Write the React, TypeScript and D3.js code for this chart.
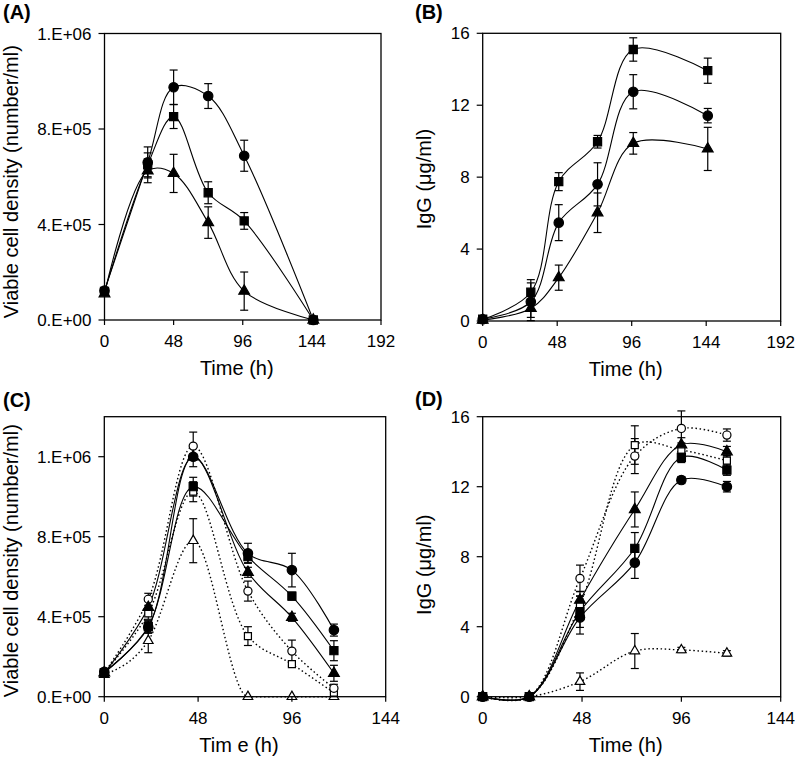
import React from "react";
import * as d3 from "d3";

// ---------- DATA ----------
// Panel A: viable cell density
const timeA = [0, 30, 48, 72, 97, 145];
const aCircle = [1.23e5, 6.6e5, 9.75e5, 9.38e5, 6.88e5, 0];
const aCircleErr = [0, 0.65e5, 0.72e5, 0.52e5, 0.65e5, 0];
const aSquare = [1.2e5, 6.5e5, 8.52e5, 5.33e5, 4.15e5, 0];
const aSquareErr = [0, 0.5e5, 0.5e5, 0.46e5, 0.35e5, 0];
const aTriangle = [1.1e5, 6.25e5, 6.14e5, 4.08e5, 1.21e5, 0];
const aTriangleErr = [0, 0.5e5, 0.8e5, 0.66e5, 0.8e5, 0];

// Panel B: IgG
const timeB = [0, 31, 49, 74, 97, 145];
const bSquare = [0.1, 1.6, 7.75, 9.97, 15.1, 13.92];
const bSquareErr = [0, 0.7, 0.5, 0.35, 0.65, 0.7];
const bCircle = [0.1, 1.07, 5.47, 7.6, 12.75, 11.42];
const bCircleErr = [0, 1.05, 1.0, 1.2, 0.95, 0.4];
const bTriangle = [0.05, 0.7, 2.41, 6.02, 9.88, 9.57];
const bTriangleErr = [0, 0.5, 0.7, 1.1, 0.6, 1.2];

// Panel C: viable cell density
const timeC = [0, 22.5, 45.5, 73.5, 96, 117.5];
const cCircleF = [1.25e5, 3.47e5, 1.2e6, 7.17e5, 6.33e5, 3.33e5];
const cCircleFErr = [0, 0.3e5, 0.05e5, 0.5e5, 0.84e5, 0.3e5];
const cSquareF = [1.2e5, 3.5e5, 1.05e6, 7.0e5, 5.03e5, 2.3e5];
const cSquareFErr = [0, 0.3e5, 0.47e5, 0.3e5, 0.2e5, 0.5e5];
const cTriF = [1.2e5, 4.47e5, 1.2e6, 6.22e5, 3.97e5, 1.17e5];
const cTriFErr = [0, 0.3e5, 0.5e5, 0.25e5, 0.2e5, 0.4e5];
const cCircleO = [1.2e5, 4.87e5, 1.253e6, 5.28e5, 2.28e5, 0.42e5];
const cCircleOErr = [0, 0.3e5, 0.7e5, 0.5e5, 0.55e5, 0.2e5];
const cSquareO = [1.2e5, 4.17e5, 1.025e6, 3.03e5, 1.63e5, 0.2e5];
const cSquareOErr = [0, 0.3e5, 0.5e5, 0.47e5, 0.1e5, 0];
const cTriO = [1.1e5, 2.8e5, 7.8e5, 0, 0, 0];
const cTriOErr = [0, 0.6e5, 1.1e5, 0, 0, 0];

// Panel D: IgG
const timeD = [0, 22.5, 47, 73.5, 96, 118];
const dCircleF = [0, 0, 4.53, 7.66, 12.38, 12.0];
const dCircleFErr = [0, 0, 0.95, 0.9, 0.2, 0.3];
const dSquareF = [0, 0, 4.86, 8.48, 13.68, 12.95];
const dSquareFErr = [0, 0, 0.9, 0.9, 0.3, 0.3];
const dTriF = [0, 0, 5.52, 10.7, 14.4, 14.0];
const dTriFErr = [0, 0, 0.5, 1.0, 0.4, 0.3];
const dCircleO = [0, 0, 6.76, 13.75, 15.33, 14.95];
const dCircleOErr = [0, 0, 0.76, 1.0, 1.0, 0.35];
const dSquareO = [0, 0, 5.24, 14.38, 14.1, 13.49];
const dSquareOErr = [0, 0, 0.5, 1.1, 0.4, 0.3];
const dTriO = [0, 0, 0.86, 2.61, 2.67, 2.48];
const dTriOErr = [0, 0, 0.5, 1.0, 0.15, 0.15];

// Axis ticks
const xTicksAB = [0, 48, 96, 144, 192];
const xTicksCD = [0, 48, 96, 144];
const yTicksCell = [0, 4e5, 8e5, 1.2e6];
const yTickLabelsCell = ["0.E+00", "4.E+05", "8.E+05", "1.E+06"];
const yTicksIgG = [0, 4, 8, 12, 16];
const yTickLabelsIgG = ["0", "4", "8", "12", "16"];

// ---------- RENDERING ----------
type Shape = "circle" | "square" | "triangle";
type Series = {
  t: number[]; v: number[]; e: number[];
  shape: Shape; filled: boolean; dotted: boolean; monotone?: boolean;
};

const FONT = "'Liberation Sans', Arial, sans-serif";

function symbolPath(shape: Shape, filled: boolean) {
  const type = shape === "circle" ? d3.symbolCircle : shape === "square" ? d3.symbolSquare : d3.symbolTriangle;
  const size = shape === "circle" ? (filled ? 70 : 52) : shape === "square" ? (filled ? 66 : 49) : (filled ? 50 : 40);
  return d3.symbol().type(type).size(size)() as string;
}

type PanelProps = {
  left: number; top: number; width: number; height: number;
  xDomain: [number, number]; xTicks: number[];
  yDomain: [number, number]; yTicks: number[]; yTickLabels: string[];
  series: Series[];
  label: string; labelX: number; labelY: number;
  xTitle: string; yTitle: string; yTitleX: number; yTitleDy: number;
};

function Panel(p: PanelProps) {
  const x = d3.scaleLinear().domain(p.xDomain).range([p.left, p.left + p.width]);
  const y = d3.scaleLinear().domain(p.yDomain).range([p.top + p.height, p.top]);
  const mkLine = (mono: boolean) =>
    d3
      .line<[number, number]>()
      .x((d) => x(d[0]))
      .y((d) => y(d[1]))
      .curve(mono ? d3.curveMonotoneX : d3.curveCatmullRom.alpha(0.5));
  const bottom = p.top + p.height;
  const cx = p.left + p.width / 2;
  const cy = p.top + p.height / 2;
  return (
    <g>
      {/* lines */}
      {p.series.map((s, i) => (
        <path
          key={"l" + i}
          d={mkLine(!!s.monotone)(s.t.map((t, j) => [t, s.v[j]] as [number, number])) as string}
          fill="none"
          stroke="#000"
          strokeWidth={s.dotted ? 1.4 : 1.1}
          strokeDasharray={s.dotted ? "1.5 2.6" : undefined}
        />
      ))}
      {/* error bars */}
      {p.series.map((s, i) =>
        s.t.map((t, j) => {
          const e = s.e[j];
          if (!e) return null;
          const px = x(t);
          const y1 = y(s.v[j] + e);
          const y2 = y(Math.max(p.yDomain[0], s.v[j] - e));
          return (
            <g key={"e" + i + "-" + j} stroke="#000" strokeWidth={1.2}>
              <line x1={px} x2={px} y1={y1} y2={y2} />
              <line x1={px - 4} x2={px + 4} y1={y1} y2={y1} />
              {s.v[j] - e > p.yDomain[0] && <line x1={px - 4} x2={px + 4} y1={y2} y2={y2} />}
            </g>
          );
        })
      )}
      {/* markers */}
      {p.series.map((s, i) =>
        s.t.map((t, j) => (
          <path
            key={"m" + i + "-" + j}
            d={symbolPath(s.shape, s.filled)}
            transform={`translate(${x(t)},${y(s.v[j])})`}
            fill={s.filled ? "#000" : "#fff"}
            stroke="#000"
            strokeWidth={1.2}
          />
        ))
      )}
      {/* frame */}
      <rect x={p.left} y={p.top} width={p.width} height={p.height} fill="none" stroke="#000" strokeWidth={1.3} />
      {/* x ticks */}
      {p.xTicks.map((t) => (
        <g key={"xt" + t}>
          <line x1={x(t)} x2={x(t)} y1={bottom} y2={bottom + 5} stroke="#000" strokeWidth={1.2} />
          <text x={x(t)} y={bottom + 27} textAnchor="middle" fontSize={17} fontFamily={FONT}>
            {t}
          </text>
        </g>
      ))}
      {/* y ticks */}
      {p.yTicks.map((v, k) => (
        <g key={"yt" + v}>
          <line x1={p.left - 6} x2={p.left} y1={y(v)} y2={y(v)} stroke="#000" strokeWidth={1.2} />
          <text x={p.left - 13} y={y(v) + 6} textAnchor="end" fontSize={17} fontFamily={FONT}>
            {p.yTickLabels[k]}
          </text>
        </g>
      ))}
      {/* titles */}
      <text x={cx - 6} y={bottom + 55} textAnchor="middle" fontSize={20} fontFamily={FONT}>
        {p.xTitle}
      </text>
      <text
        transform={`translate(${p.yTitleX},${cy + p.yTitleDy}) rotate(-90)`}
        textAnchor="middle"
        fontSize={20}
        fontFamily={FONT}
      >
        {p.yTitle}
      </text>
      <text x={p.labelX} y={p.labelY} fontSize={20} fontWeight="bold" fontFamily={FONT}>
        {p.label}
      </text>
    </g>
  );
}

const seriesA: Series[] = [
  { t: timeA, v: aCircle, e: aCircleErr, shape: "circle", filled: true, dotted: false },
  { t: timeA, v: aSquare, e: aSquareErr, shape: "square", filled: true, dotted: false },
  { t: timeA, v: aTriangle, e: aTriangleErr, shape: "triangle", filled: true, dotted: false },
];
const seriesB: Series[] = [
  { t: timeB, v: bSquare, e: bSquareErr, shape: "square", filled: true, dotted: false },
  { t: timeB, v: bCircle, e: bCircleErr, shape: "circle", filled: true, dotted: false },
  { t: timeB, v: bTriangle, e: bTriangleErr, shape: "triangle", filled: true, dotted: false },
];
const seriesC: Series[] = [
  { t: timeC, v: cTriO, e: cTriOErr, shape: "triangle", filled: false, dotted: true, monotone: true },
  { t: timeC, v: cSquareO, e: cSquareOErr, shape: "square", filled: false, dotted: true },
  { t: timeC, v: cCircleO, e: cCircleOErr, shape: "circle", filled: false, dotted: true },
  { t: timeC, v: cTriF, e: cTriFErr, shape: "triangle", filled: true, dotted: false },
  { t: timeC, v: cSquareF, e: cSquareFErr, shape: "square", filled: true, dotted: false },
  { t: timeC, v: cCircleF, e: cCircleFErr, shape: "circle", filled: true, dotted: false },
];
const seriesD: Series[] = [
  { t: timeD, v: dTriO, e: dTriOErr, shape: "triangle", filled: false, dotted: true },
  { t: timeD, v: dSquareO, e: dSquareOErr, shape: "square", filled: false, dotted: true },
  { t: timeD, v: dCircleO, e: dCircleOErr, shape: "circle", filled: false, dotted: true },
  { t: timeD, v: dTriF, e: dTriFErr, shape: "triangle", filled: true, dotted: false },
  { t: timeD, v: dSquareF, e: dSquareFErr, shape: "square", filled: true, dotted: false },
  { t: timeD, v: dCircleF, e: dCircleFErr, shape: "circle", filled: true, dotted: false },
];

export default function App() {
  return (
    <svg
      width={795}
      height={760}
      style={{ position: "absolute", left: 0, top: 0, background: "#fff" }}
    >
      <rect x={0} y={0} width={795} height={760} fill="#fff" />
      <Panel
        left={104.5} top={33.5} width={276.5} height={286.5}
        xDomain={[0, 192]} xTicks={xTicksAB}
        yDomain={[0, 1.2e6]} yTicks={yTicksCell} yTickLabels={yTickLabelsCell}
        series={seriesA}
        label="(A)" labelX={3} labelY={19}
        xTitle="Time (h)" yTitle="Viable cell density (number/ml)" yTitleX={18} yTitleDy={5}
      />
      <Panel
        left={482.7} top={33.3} width={298} height={287.7}
        xDomain={[0, 192]} xTicks={xTicksAB}
        yDomain={[0, 16]} yTicks={yTicksIgG} yTickLabels={yTickLabelsIgG}
        series={seriesB}
        label="(B)" labelX={415} labelY={19}
        xTitle="Time (h)" yTitle="IgG (μg/ml)" yTitleX={431} yTitleDy={2}
      />
      <Panel
        left={104.3} top={416.7} width={281.4} height={280}
        xDomain={[0, 144]} xTicks={xTicksCD}
        yDomain={[0, 1.4e6]} yTicks={yTicksCell} yTickLabels={yTickLabelsCell}
        series={seriesC}
        label="(C)" labelX={3} labelY={407}
        xTitle="Tim e (h)" yTitle="Viable cell density (number/ml)" yTitleX={18} yTitleDy={4}
      />
      <Panel
        left={482.7} top={416.7} width={298} height={280}
        xDomain={[0, 144]} xTicks={xTicksCD}
        yDomain={[0, 16]} yTicks={yTicksIgG} yTickLabels={yTickLabelsIgG}
        series={seriesD}
        label="(D)" labelX={415} labelY={406}
        xTitle="Time (h)" yTitle="IgG (μg/ml)" yTitleX={431} yTitleDy={8}
      />
    </svg>
  );
}
